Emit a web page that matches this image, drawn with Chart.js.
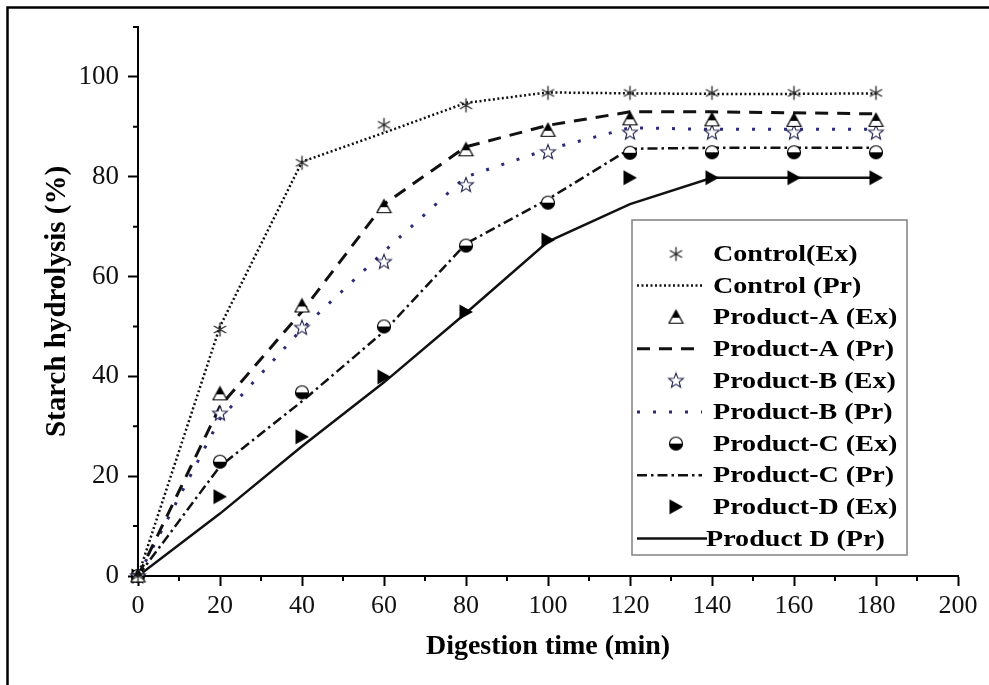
<!DOCTYPE html>
<html>
<head>
<meta charset="utf-8">
<title>Starch hydrolysis</title>
<script src="https://cdn.jsdelivr.net/npm/chart.js@4.4.0/dist/chart.umd.min.js"></script>
<style>
  html, body { margin: 0; padding: 0; background: #fff; }
  canvas { display: block; }
</style>
</head>
<body>
<canvas id="starchChart" width="989" height="685"></canvas>
<script>
// digestion time (min)
const time = [0, 20, 40, 60, 80, 100, 120, 140, 160, 180];

// experimental (Ex) and predicted (Pr) starch hydrolysis (%)
const controlEx  = [0, 49.4, 82.8, 90.4, 94.3, 96.8, 96.8, 96.8, 96.8, 96.8];
const controlPr  = [0, 50, 83, 88.8, 94.8, 96.9, 96.7, 96.6, 96.6, 96.7];
const productAEx = [0, 36.5, 54.1, 74, 85.4, 89.3, 91.6, 91.4, 91.3, 91.3];
const productAPr = [0, 34, 53, 74.5, 86, 90.3, 93, 93, 92.8, 92.6];
const productBEx = [0, 32.6, 49.8, 63, 78.4, 85, 88.9, 88.9, 88.9, 88.9];
const productBPr = [0, 31.5, 49.5, 65, 80, 85.5, 89.8, 89.5, 89.5, 89.5];
const productCEx = [0, 22.9, 36.8, 50, 66.2, 74.8, 84.8, 84.9, 84.9, 84.9];
const productCPr = [0, 22, 35, 49, 66.6, 75.5, 85.6, 85.8, 85.8, 85.8];
const productDEx = [0, 15.9, 27.9, 39.9, 52.9, 67.3, 79.8, 79.8, 79.8, 79.8];
const productDPr = [0, 12.5, 26, 38.8, 52.7, 67, 74.5, 79.8, 79.8, 79.8];

const xTicksEvery = 20;
const yTicksEvery = 20;

const serif = "'Liberation Serif', 'Times New Roman', serif";

function pairs(values) {
    return time.map((t, i) => ({ x: t, y: values[i] }));
}

// small canvases used as point symbols
function makeMarker(size, draw) {
    const c = document.createElement('canvas');
    c.width = size;
    c.height = size;
    draw(c.getContext('2d'), size / 2);
    return c;
}

const asterisk = makeMarker(17, (g, m) => {
    g.strokeStyle = '#222';
    g.lineWidth = 1.3;
    g.beginPath();
    [90, 30, 150].forEach(a => {
        const r = a * Math.PI / 180;
        g.moveTo(m + Math.cos(r) * 7, m - Math.sin(r) * 7);
        g.lineTo(m - Math.cos(r) * 7, m + Math.sin(r) * 7);
    });
    g.stroke();
});

const halfTriangle = makeMarker(17, (g, m) => {
    g.beginPath();
    g.moveTo(m, 1.5);
    g.lineTo(15.5, 14.5);
    g.lineTo(1.5, 14.5);
    g.closePath();
    g.fillStyle = '#fff';
    g.fill();
    g.save();
    g.clip();
    g.fillStyle = '#000';
    g.fillRect(0, 0, 17, 9);
    g.restore();
    g.strokeStyle = '#000';
    g.lineWidth = 1.2;
    g.stroke();
});

const openStar = makeMarker(18, (g, m) => {
    g.beginPath();
    for (let i = 0; i < 10; i++) {
        const r = i % 2 ? 3.3 : 7.8;
        const a = -Math.PI / 2 + i * Math.PI / 5;
        g.lineTo(m + Math.cos(a) * r, m + 0.5 + Math.sin(a) * r);
    }
    g.closePath();
    g.fillStyle = '#fff';
    g.fill();
    g.strokeStyle = '#23234d';
    g.lineWidth = 1.1;
    g.stroke();
});

const halfCircle = makeMarker(16, (g, m) => {
    g.beginPath();
    g.arc(m, m, 6.5, 0, Math.PI * 2);
    g.fillStyle = '#fff';
    g.fill();
    g.strokeStyle = '#000';
    g.lineWidth = 1.2;
    g.stroke();
    g.beginPath();
    g.arc(m, m, 6.5, 0, Math.PI);
    g.closePath();
    g.fillStyle = '#000';
    g.fill();
});

const rightTriangle = makeMarker(18, (g, m) => {
    g.beginPath();
    g.moveTo(2.5, 1.5);
    g.lineTo(16, m);
    g.lineTo(2.5, 16.5);
    g.closePath();
    g.fillStyle = '#000';
    g.fill();
});

function exSet(label, values, marker) {
    return {
        label: label,
        data: pairs(values),
        showLine: false,
        pointStyle: marker,
        pointRadius: 8,
        clip: false,
        order: 0
    };
}

function prSet(label, values, color, dash, width) {
    return {
        label: label,
        data: pairs(values),
        showLine: true,
        borderColor: color,
        borderWidth: width,
        borderDash: dash,
        pointRadius: 0,
        tension: 0,
        fill: false,
        order: 1
    };
}

const datasets = [
    exSet('Control(Ex)', controlEx, asterisk),
    prSet('Control (Pr)', controlPr, '#111', [2, 2.5], 2.5),
    exSet('Product-A (Ex)', productAEx, halfTriangle),
    prSet('Product-A (Pr)', productAPr, '#111', [13, 9], 3),
    exSet('Product-B (Ex)', productBEx, openStar),
    prSet('Product-B (Pr)', productBPr, '#2b2b78', [3, 13], 3),
    exSet('Product-C (Ex)', productCEx, halfCircle),
    prSet('Product-C (Pr)', productCPr, '#111', [10, 4, 2.5, 4], 2.5),
    exSet('Product-D (Ex)', productDEx, rightTriangle),
    prSet('Product D (Pr)', productDPr, '#111', [], 2.5)
];

// white page with the thin frame at top and left
const framePlugin = {
    id: 'frame',
    beforeDraw(chart) {
        const { ctx, width, height } = chart;
        ctx.save();
        ctx.fillStyle = '#fff';
        ctx.fillRect(0, 0, width, height);
        ctx.strokeStyle = '#000';
        ctx.lineWidth = 2.5;
        ctx.beginPath();
        ctx.moveTo(7.5, height);
        ctx.lineTo(7.5, 7.5);
        ctx.lineTo(width, 7.5);
        ctx.stroke();
        ctx.restore();
    }
};

// short minor ticks between the labelled ones
const minorTicks = {
    id: 'minorTicks',
    afterDraw(chart) {
        const { ctx } = chart;
        const xs = chart.scales.x, ys = chart.scales.y;
        ctx.save();
        ctx.strokeStyle = '#000';
        ctx.lineWidth = 2;
        ctx.beginPath();
        xs.ticks.forEach(t => {
            if (t.value % xTicksEvery === 0) return;
            const px = xs.getPixelForValue(t.value);
            ctx.moveTo(px, xs.top);
            ctx.lineTo(px, xs.top + 5);
        });
        ys.ticks.forEach(t => {
            if (t.value % yTicksEvery === 0 && t.value <= 100) return;
            const py = ys.getPixelForValue(t.value);
            ctx.moveTo(ys.right, py);
            ctx.lineTo(ys.right - 5, py);
        });
        ctx.stroke();
        ctx.restore();
    }
};

// boxed legend inside the plot, like the original figure
const legendBox = {
    id: 'legendBox',
    afterDraw(chart) {
        const { ctx } = chart;
        const box = { x: 632, y: 220, w: 275, h: 335 };
        const firstRow = 254, rowGap = 31.6;
        ctx.save();
        ctx.fillStyle = '#fff';
        ctx.fillRect(box.x, box.y, box.w, box.h);
        ctx.strokeStyle = '#808080';
        ctx.lineWidth = 1.5;
        ctx.strokeRect(box.x, box.y, box.w, box.h);

        chart.data.datasets.forEach((ds, i) => {
            const y = firstRow + i * rowGap;
            if (ds.showLine === false) {
                const img = ds.pointStyle;
                ctx.drawImage(img, 676 - img.width / 2, y - img.height / 2);
            } else {
                ctx.strokeStyle = ds.borderColor;
                ctx.lineWidth = ds.borderWidth;
                ctx.setLineDash(ds.borderDash);
                ctx.beginPath();
                ctx.moveTo(637, y);
                ctx.lineTo(i === 9 ? 707 : 702, y);
                ctx.stroke();
                ctx.setLineDash([]);
            }
            ctx.save();
            ctx.translate(i === 9 ? 706 : 713, y);
            ctx.scale(1.17, 1);
            ctx.fillStyle = '#000';
            ctx.font = 'bold 24px ' + serif;
            ctx.textBaseline = 'middle';
            ctx.fillText(ds.label, 0, 1);
            ctx.restore();
        });
        ctx.restore();
    }
};

new Chart(document.getElementById('starchChart'), {
    type: 'scatter',
    data: { datasets: datasets },
    options: {
        responsive: false,
        animation: false,
        events: [],
        layout: { padding: { top: 27, right: 31, left: 0, bottom: 0 } },
        plugins: {
            legend: { display: false },
            tooltip: { enabled: false }
        },
        scales: {
            x: {
                type: 'linear',
                min: 0,
                max: 200,
                afterFit: scale => { scale.height = 109; },
                border: { display: true, color: '#000', width: 2 },
                grid: {
                    drawOnChartArea: false,
                    drawTicks: true,
                    tickLength: 10,
                    tickWidth: 2,
                    tickColor: c => c.tick && c.tick.value % xTicksEvery === 0 ? '#000' : 'rgba(0,0,0,0)'
                },
                ticks: {
                    stepSize: 10,
                    autoSkip: false,
                    maxRotation: 0,
                    padding: 5,
                    color: '#111',
                    font: { family: serif, size: 26 },
                    callback: v => v % xTicksEvery === 0 ? v : ''
                },
                title: {
                    display: true,
                    text: 'Digestion time (min)',
                    color: '#000',
                    font: { family: serif, size: 28, weight: 'bold' },
                    padding: { top: 0, bottom: 21 }
                }
            },
            y: {
                type: 'linear',
                min: 0,
                max: 110,
                afterFit: scale => { scale.width = 138; },
                border: { display: true, color: '#000', width: 2 },
                grid: {
                    drawOnChartArea: false,
                    drawTicks: true,
                    tickLength: 10,
                    tickWidth: 2,
                    tickColor: c => c.tick && c.tick.value % yTicksEvery === 0 && c.tick.value <= 100 ? '#000' : 'rgba(0,0,0,0)'
                },
                ticks: {
                    stepSize: 10,
                    autoSkip: false,
                    padding: 9,
                    color: '#111',
                    font: { family: serif, size: 27 },
                    callback: v => v % yTicksEvery === 0 && v <= 100 ? v : ''
                },
                title: {
                    display: true,
                    text: 'Starch hydrolysis (%)',
                    color: '#000',
                    font: { family: serif, size: 29, weight: 'bold' },
                    padding: { top: 40, bottom: 0 }
                }
            }
        }
    },
    plugins: [framePlugin, minorTicks, legendBox]
});
</script>
</body>
</html>
